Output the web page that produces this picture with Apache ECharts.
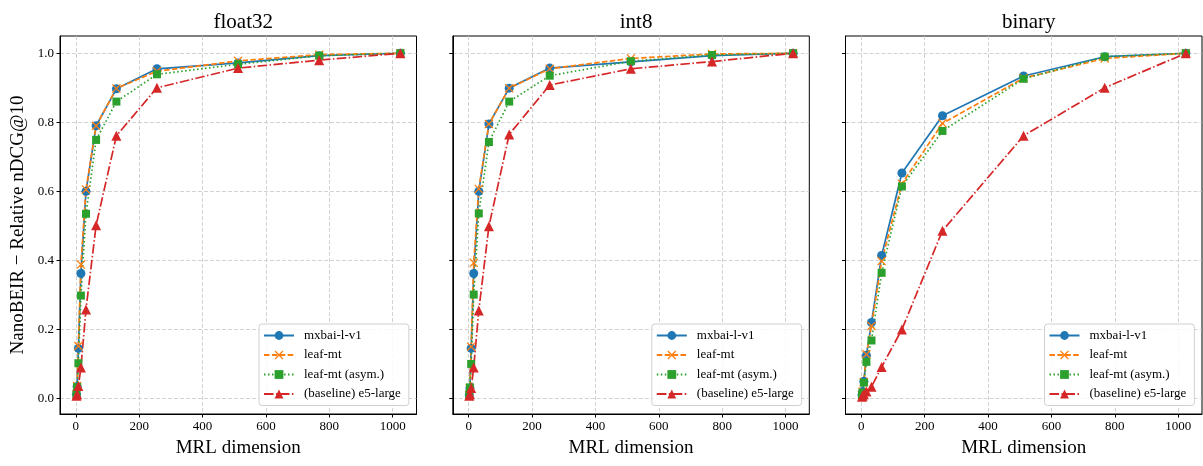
<!DOCTYPE html>
<html>
<head>
<meta charset="utf-8">
<script src="https://cdn.jsdelivr.net/npm/echarts@6/dist/echarts.min.js"></script>
<style>
  html, body { margin: 0; padding: 0; background: #fff; }
  #chart { width: 1203px; height: 466px; }
</style>
</head>
<body>
<div id="chart"></div>
<script>
// MRL dimensions (x axis)
var dims = [2, 4, 8, 16, 32, 64, 128, 256, 512, 768, 1024];

var panelTitles = ['float32', 'int8', 'binary'];
var seriesNames = ['mxbai-l-v1', 'leaf-mt', 'leaf-mt (asym.)', '(baseline) e5-large'];

// float32
var mxbaiFloat32 = [0.012, 0.035, 0.145, 0.362, 0.600, 0.790, 0.897, 0.955, 0.972, 0.993, 1.0];
var leafFloat32 = [0.012, 0.036, 0.152, 0.388, 0.605, 0.790, 0.898, 0.948, 0.978, 0.996, 1.0];
var leafAsymFloat32 = [0.012, 0.033, 0.102, 0.298, 0.535, 0.749, 0.860, 0.939, 0.968, 0.993, 1.0];
var e5Float32 = [0.008, 0.012, 0.036, 0.090, 0.258, 0.502, 0.761, 0.900, 0.957, 0.980, 1.0];

// int8
var mxbaiInt8 = [0.010, 0.030, 0.145, 0.362, 0.600, 0.795, 0.899, 0.957, 0.975, 0.993, 1.0];
var leafInt8 = [0.010, 0.030, 0.150, 0.393, 0.607, 0.795, 0.899, 0.955, 0.985, 0.998, 1.0];
var leafAsymInt8 = [0.012, 0.032, 0.100, 0.301, 0.536, 0.743, 0.860, 0.935, 0.977, 0.995, 1.0];
var e5Int8 = [0.008, 0.012, 0.030, 0.090, 0.255, 0.499, 0.765, 0.908, 0.955, 0.976, 1.0];

// binary
var mxbaiBinary = [0.010, 0.020, 0.050, 0.125, 0.220, 0.414, 0.653, 0.819, 0.934, 0.990, 1.0];
var leafBinary = [0.010, 0.020, 0.048, 0.128, 0.210, 0.398, 0.622, 0.797, 0.928, 0.985, 1.0];
var leafAsymBinary = [0.010, 0.017, 0.046, 0.106, 0.168, 0.364, 0.614, 0.775, 0.926, 0.990, 1.0];
var e5Binary = [0.005, 0.008, 0.012, 0.020, 0.034, 0.091, 0.200, 0.486, 0.761, 0.900, 1.0];

var xTicks = [0, 200, 400, 600, 800, 1000];
var yTicks = [0.0, 0.2, 0.4, 0.6, 0.8, 1.0];

var panelData = [
  [mxbaiFloat32, leafFloat32, leafAsymFloat32, e5Float32],
  [mxbaiInt8, leafInt8, leafAsymInt8, e5Int8],
  [mxbaiBinary, leafBinary, leafAsymBinary, e5Binary]
];

var FONT = '"Liberation Serif", "DejaVu Serif", serif';
var colors = ['#1f77b4', '#ff7f0e', '#2ca02c', '#d62728'];
var xMarker = 'path://M1,0 L5,4 L9,0 L10,1 L6,5 L10,9 L9,10 L5,6 L1,10 L0,9 L4,5 L0,1 Z';
var symbols = ['circle', xMarker, 'rect', 'triangle'];
var symbolSizes = [9, 9, 8, 10];
var dashes = ['solid', [5.5, 2.4], [1.5, 2.5], [9.6, 2.4, 1.5, 2.4]];

var panelLeft = [60, 452.8, 845.5];
var panelWidth = 356.5;
var panelTop = 36;
var panelHeight = 378;

var grids = [], xAxes = [], yAxes = [], titles = [], legends = [], series = [];

panelLeft.forEach(function (left, p) {
  grids.push({
    left: left, top: panelTop, width: panelWidth, height: panelHeight,
    show: true, borderColor: '#000', borderWidth: 1, backgroundColor: '#fff'
  });
  titles.push({
    text: panelTitles[p],
    left: left + panelWidth / 2,
    top: 7,
    textAlign: 'center',
    textStyle: { fontFamily: FONT, fontSize: 21, fontWeight: 'normal', color: '#000' }
  });
  xAxes.push({
    gridIndex: p,
    type: 'value',
    min: -50, max: 1075,
    name: 'MRL dimension',
    nameLocation: 'middle',
    nameGap: 25,
    nameTextStyle: { fontFamily: FONT, fontSize: 19, color: '#000' },
    axisLine: { show: true, onZero: false, lineStyle: { color: '#000', width: 1 } },
    axisTick: { show: true, length: 3.5, customValues: xTicks, lineStyle: { color: '#000' } },
    axisLabel: {
      customValues: xTicks, margin: 6,
      fontFamily: FONT, fontSize: 13, color: '#000',
      formatter: function (v) { return String(v); }
    },
    splitLine: { show: true, lineStyle: { color: '#c8c8c8', type: [4, 2], width: 0.8 } }
  });
  yAxes.push({
    gridIndex: p,
    type: 'value',
    min: -0.045, max: 1.05,
    name: p === 0 ? 'NanoBEIR \u2212 Relative nDCG@10' : '',
    nameLocation: 'middle',
    nameGap: 32,
    nameTextStyle: { fontFamily: FONT, fontSize: 19, color: '#000' },
    axisLine: { show: true, onZero: false, lineStyle: { color: '#000', width: 1 } },
    axisTick: { show: true, length: 3.5, customValues: yTicks, lineStyle: { color: '#000' } },
    axisLabel: {
      show: p === 0,
      customValues: yTicks, margin: 6,
      fontFamily: FONT, fontSize: 13, color: '#000',
      formatter: function (v) { return v.toFixed(1); }
    },
    splitLine: { show: true, lineStyle: { color: '#c8c8c8', type: [4, 2], width: 0.8 } }
  });
  legends.push({
    data: seriesNames,
    left: left + 199,
    top: 324,
    orient: 'vertical',
    itemWidth: 30,
    itemHeight: 11,
    itemGap: 6.5,
    padding: [5, 8, 5, 4],
    backgroundColor: 'rgba(255,255,255,0.85)',
    borderColor: '#d0d0d0',
    borderWidth: 1,
    borderRadius: 3,
    selectedMode: false,
    textStyle: { fontFamily: FONT, fontSize: 13, color: '#000', padding: [0, 0, 0, 5] }
  });
  panelData[p].forEach(function (vals, s) {
    series.push({
      name: seriesNames[s],
      type: 'line',
      xAxisIndex: p,
      yAxisIndex: p,
      data: dims.map(function (d, k) { return [d, vals[k]]; }),
      symbol: symbols[s],
      symbolSize: symbolSizes[s],
      showAllSymbol: true,
      animation: false,
      lineStyle: { color: colors[s], width: 1.7, type: dashes[s] },
      itemStyle: { color: colors[s], borderWidth: 0 },
      emphasis: { disabled: true }
    });
  });
});

var chart = echarts.init(document.getElementById('chart'), null, { renderer: 'canvas' });
chart.setOption({
  backgroundColor: '#fff',
  animation: false,
  title: titles,
  grid: grids,
  xAxis: xAxes,
  yAxis: yAxes,
  legend: legends,
  series: series
});
</script>
</body>
</html>
